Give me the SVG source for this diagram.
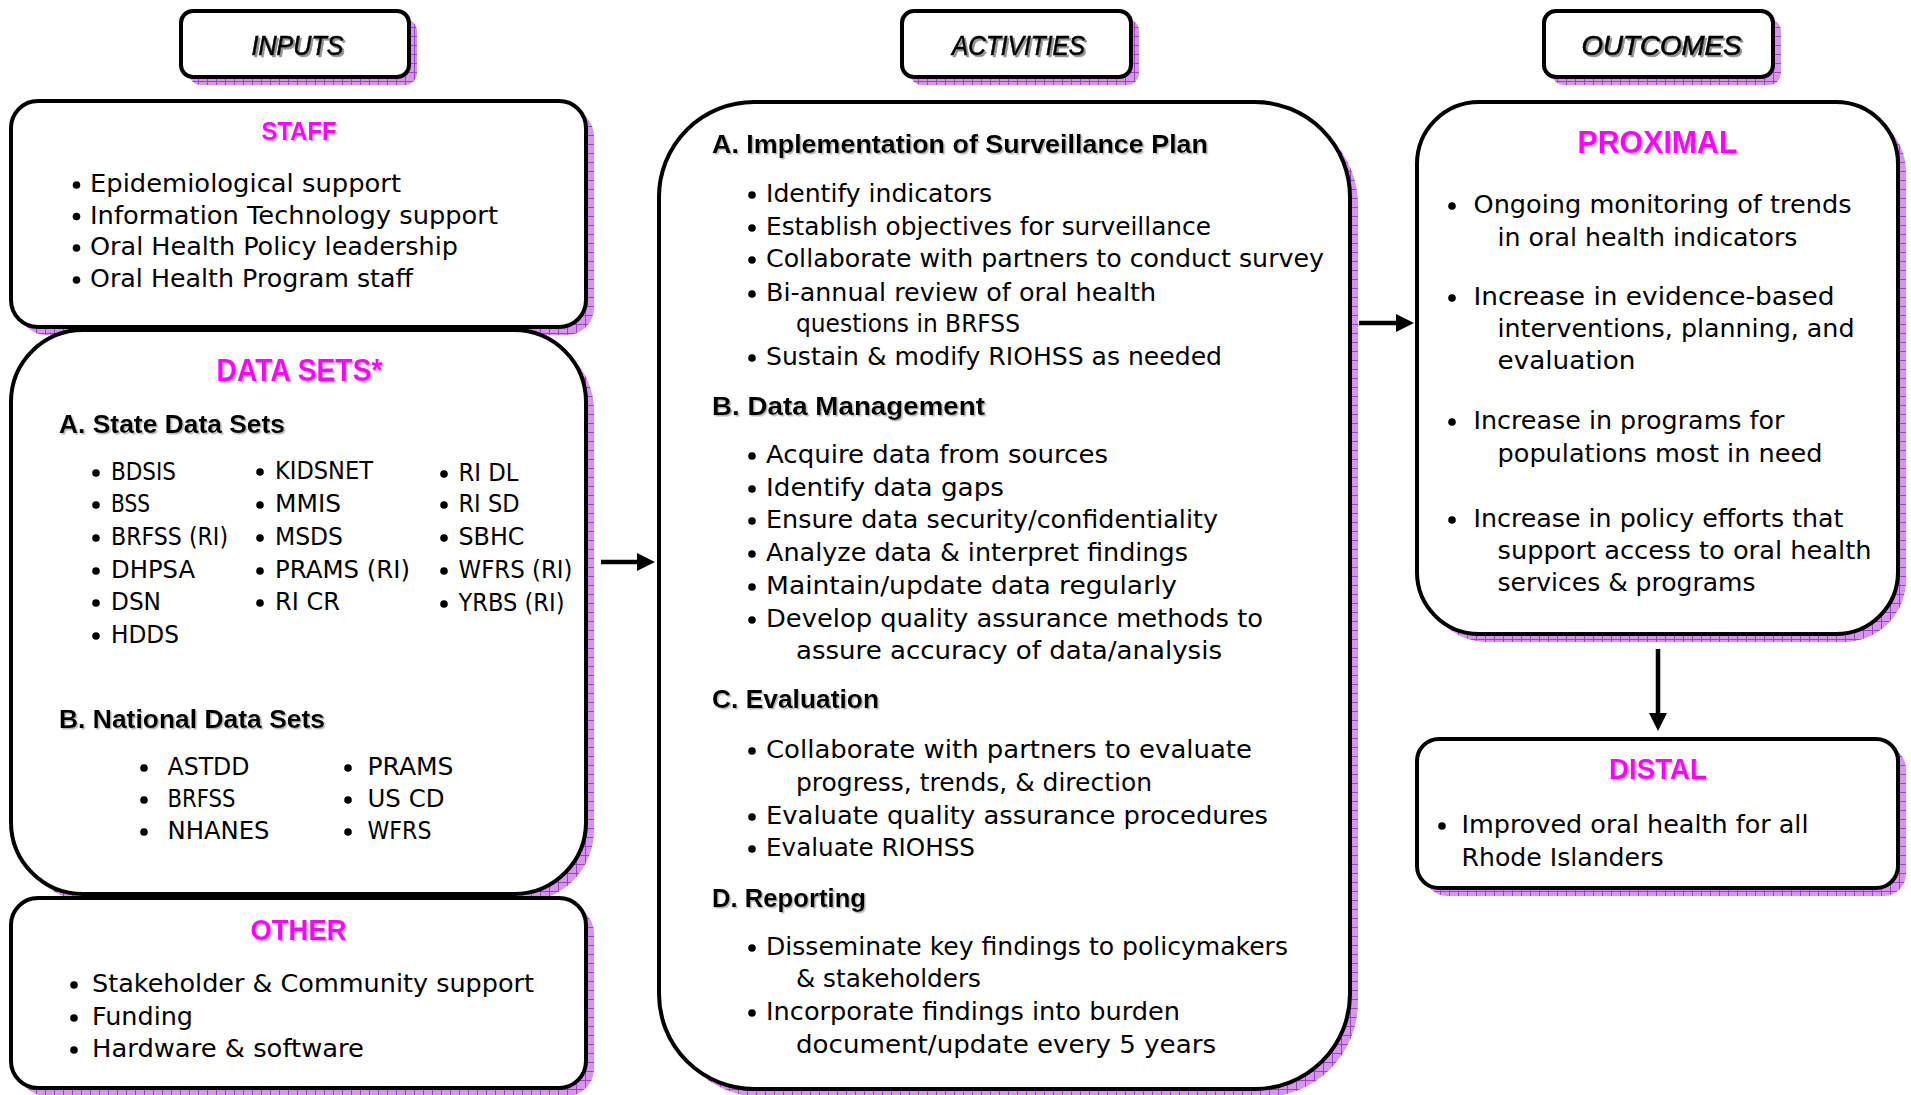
<svg xmlns="http://www.w3.org/2000/svg" width="1911" height="1095" viewBox="0 0 1911 1095">
<style>
.box{fill:#fff;stroke:#000;stroke-width:4}
.shd{fill:url(#grid)}
.hdr{font-family:"Liberation Sans",Arial,sans-serif;font-style:italic;font-size:28px;text-anchor:middle;fill:#000;stroke:#000;stroke-width:0.7;filter:url(#ts)}
.mag{font-family:"Liberation Sans",Arial,sans-serif;font-weight:bold;fill:#FF00FF;text-anchor:middle;filter:url(#ts2)}
.sub{font-family:"Liberation Sans",Arial,sans-serif;font-weight:bold;font-size:26px;fill:#000;filter:url(#ts2)}
.bd{font-family:"DejaVu Sans","Liberation Sans",sans-serif;font-size:25.5px;fill:#000}
.bl{fill:#000}
.conn{fill:none;stroke:#000;stroke-width:4.5}
</style>
<defs>
<pattern id="grid" width="9" height="9" patternUnits="userSpaceOnUse">
<rect width="9" height="9" fill="#D596EC"/>
<path d="M0 0.5H9M0.5 0V9" stroke="#A23CD2" stroke-width="1"/>
</pattern>
<filter id="ts" x="-10%" y="-30%" width="125%" height="170%">
<feDropShadow dx="2" dy="2" stdDeviation="0.7" flood-color="#666" flood-opacity="0.7"/>
</filter>
<filter id="ts2" x="-10%" y="-30%" width="125%" height="170%">
<feDropShadow dx="1.5" dy="1.5" stdDeviation="0.6" flood-color="#888" flood-opacity="0.6"/>
</filter>
<marker id="ah" markerUnits="userSpaceOnUse" viewBox="0 0 18 18" markerWidth="18" markerHeight="18" refX="8" refY="9" orient="auto">
<path d="M0,0 L18,9 L0,18 z" fill="#000"/>
</marker>
</defs>
<rect width="1911" height="1095" fill="#fff"/>

<!-- Column headers -->
<g id="inputs-header">
<rect class="shd" x="189" y="19" width="228" height="66" rx="12"/>
<rect class="box" x="181" y="11" width="228" height="66" rx="12"/>
<text class="hdr" x="297.5" y="55" textLength="92" lengthAdjust="spacingAndGlyphs">INPUTS</text>
</g>
<g id="activities-header">
<rect class="shd" x="910" y="19" width="229" height="66" rx="12"/>
<rect class="box" x="902" y="11" width="229" height="66" rx="12"/>
<text class="hdr" x="1018.5" y="55" textLength="133" lengthAdjust="spacingAndGlyphs">ACTIVITIES</text>
</g>
<g id="outcomes-header">
<rect class="shd" x="1552" y="19" width="229" height="66" rx="12"/>
<rect class="box" x="1544" y="11" width="229" height="66" rx="12"/>
<text class="hdr" x="1661.5" y="55" textLength="160" lengthAdjust="spacingAndGlyphs">OUTCOMES</text>
</g>

<!-- STAFF -->
<g id="staff">
<rect class="shd" x="19" y="109" width="575" height="226" rx="27"/>
<rect class="box" x="11" y="101" width="575" height="226" rx="27"/>
<text class="mag" x="299" y="140" font-size="26" textLength="75" lengthAdjust="spacingAndGlyphs">STAFF</text>
<circle class="bl" cx="76.5" cy="185" r="3.8"/>
<circle class="bl" cx="76.5" cy="216.5" r="3.8"/>
<circle class="bl" cx="76.5" cy="248" r="3.8"/>
<circle class="bl" cx="76.5" cy="280" r="3.8"/>
<text class="bd" x="90" y="192" textLength="311" lengthAdjust="spacingAndGlyphs">Epidemiological support</text>
<text class="bd" x="90" y="223.5" textLength="408" lengthAdjust="spacingAndGlyphs">Information Technology support</text>
<text class="bd" x="90" y="255" textLength="368" lengthAdjust="spacingAndGlyphs">Oral Health Policy leadership</text>
<text class="bd" x="90" y="287" textLength="323" lengthAdjust="spacingAndGlyphs">Oral Health Program staff</text>
</g>

<!-- DATA SETS -->
<g id="data-sets">
<rect class="shd" x="19" y="338" width="575" height="564" rx="72"/>
<rect class="box" x="11" y="330" width="575" height="564" rx="72"/>
<text class="mag" x="299.5" y="381" font-size="31" textLength="166" lengthAdjust="spacingAndGlyphs">DATA SETS*</text>
<text class="sub" x="59" y="433" textLength="226" lengthAdjust="spacingAndGlyphs">A. State Data Sets</text>
<g class="bl">
<circle cx="96" cy="473" r="3.8"/><circle cx="96" cy="505" r="3.8"/><circle cx="96" cy="538" r="3.8"/><circle cx="96" cy="571" r="3.8"/><circle cx="96" cy="603" r="3.8"/><circle cx="96" cy="636" r="3.8"/>
<circle cx="260" cy="472" r="3.8"/><circle cx="260" cy="505" r="3.8"/><circle cx="260" cy="538" r="3.8"/><circle cx="260" cy="571" r="3.8"/><circle cx="260" cy="603" r="3.8"/>
<circle cx="444" cy="474" r="3.8"/><circle cx="444" cy="505" r="3.8"/><circle cx="444" cy="538" r="3.8"/><circle cx="444" cy="571" r="3.8"/><circle cx="444" cy="604" r="3.8"/>
</g>
<text class="bd" x="111" y="480" textLength="65" lengthAdjust="spacingAndGlyphs">BDSIS</text>
<text class="bd" x="111" y="512" textLength="39" lengthAdjust="spacingAndGlyphs">BSS</text>
<text class="bd" x="111" y="545" textLength="117" lengthAdjust="spacingAndGlyphs">BRFSS (RI)</text>
<text class="bd" x="111" y="578" textLength="84" lengthAdjust="spacingAndGlyphs">DHPSA</text>
<text class="bd" x="111" y="610" textLength="50" lengthAdjust="spacingAndGlyphs">DSN</text>
<text class="bd" x="111" y="643" textLength="68" lengthAdjust="spacingAndGlyphs">HDDS</text>
<text class="bd" x="275" y="479" textLength="98" lengthAdjust="spacingAndGlyphs">KIDSNET</text>
<text class="bd" x="275" y="512" textLength="66" lengthAdjust="spacingAndGlyphs">MMIS</text>
<text class="bd" x="275" y="545" textLength="68" lengthAdjust="spacingAndGlyphs">MSDS</text>
<text class="bd" x="275" y="578" textLength="135" lengthAdjust="spacingAndGlyphs">PRAMS (RI)</text>
<text class="bd" x="275" y="610" textLength="65" lengthAdjust="spacingAndGlyphs">RI CR</text>
<text class="bd" x="458.5" y="481" textLength="60" lengthAdjust="spacingAndGlyphs">RI DL</text>
<text class="bd" x="458.5" y="512" textLength="61" lengthAdjust="spacingAndGlyphs">RI SD</text>
<text class="bd" x="458.5" y="545" textLength="66" lengthAdjust="spacingAndGlyphs">SBHC</text>
<text class="bd" x="458.5" y="578" textLength="114" lengthAdjust="spacingAndGlyphs">WFRS (RI)</text>
<text class="bd" x="458.5" y="611" textLength="106" lengthAdjust="spacingAndGlyphs">YRBS (RI)</text>
<text class="sub" x="59" y="728" textLength="266" lengthAdjust="spacingAndGlyphs">B. National Data Sets</text>
<g class="bl">
<circle cx="144" cy="768" r="3.8"/><circle cx="144" cy="800" r="3.8"/><circle cx="144" cy="832" r="3.8"/>
<circle cx="348" cy="768" r="3.8"/><circle cx="348" cy="800" r="3.8"/><circle cx="348" cy="832" r="3.8"/>
</g>
<text class="bd" x="167.5" y="775" textLength="82" lengthAdjust="spacingAndGlyphs">ASTDD</text>
<text class="bd" x="167.5" y="807" textLength="68" lengthAdjust="spacingAndGlyphs">BRFSS</text>
<text class="bd" x="167.5" y="839" textLength="102" lengthAdjust="spacingAndGlyphs">NHANES</text>
<text class="bd" x="367.5" y="775" textLength="86" lengthAdjust="spacingAndGlyphs">PRAMS</text>
<text class="bd" x="367.5" y="807" textLength="77" lengthAdjust="spacingAndGlyphs">US CD</text>
<text class="bd" x="367.5" y="839" textLength="64" lengthAdjust="spacingAndGlyphs">WFRS</text>
</g>

<!-- OTHER -->
<g id="other">
<rect class="shd" x="19" y="906" width="575" height="190" rx="27"/>
<rect class="box" x="11" y="898" width="575" height="190" rx="27"/>
<text class="mag" x="298.5" y="940" font-size="30" textLength="96" lengthAdjust="spacingAndGlyphs">OTHER</text>
<circle class="bl" cx="74" cy="985" r="3.8"/>
<circle class="bl" cx="74" cy="1018" r="3.8"/>
<circle class="bl" cx="74" cy="1050" r="3.8"/>
<text class="bd" x="92" y="992" textLength="442" lengthAdjust="spacingAndGlyphs">Stakeholder &amp; Community support</text>
<text class="bd" x="92" y="1025" textLength="101" lengthAdjust="spacingAndGlyphs">Funding</text>
<text class="bd" x="92" y="1057" textLength="272" lengthAdjust="spacingAndGlyphs">Hardware &amp; software</text>
</g>

<!-- ACTIVITIES -->
<g id="activities">
<rect class="shd" x="667" y="110" width="691" height="987" rx="95"/>
<rect class="box" x="659" y="102" width="691" height="987" rx="95"/>
<text class="sub" x="712" y="153" textLength="496" lengthAdjust="spacingAndGlyphs">A. Implementation of Surveillance Plan</text>
<g class="bl">
<circle cx="752" cy="195" r="3.8"/><circle cx="752" cy="228" r="3.8"/><circle cx="752" cy="260" r="3.8"/><circle cx="752" cy="294" r="3.8"/><circle cx="752" cy="358" r="3.8"/>
<circle cx="752" cy="456" r="3.8"/><circle cx="752" cy="489" r="3.8"/><circle cx="752" cy="521" r="3.8"/><circle cx="752" cy="554" r="3.8"/><circle cx="752" cy="587" r="3.8"/><circle cx="752" cy="620" r="3.8"/>
<circle cx="752" cy="751" r="3.8"/><circle cx="752" cy="817" r="3.8"/><circle cx="752" cy="849" r="3.8"/>
<circle cx="752" cy="948" r="3.8"/><circle cx="752" cy="1013" r="3.8"/>
</g>
<text class="bd" x="766" y="202" textLength="226" lengthAdjust="spacingAndGlyphs">Identify indicators</text>
<text class="bd" x="766" y="235" textLength="445" lengthAdjust="spacingAndGlyphs">Establish objectives for surveillance</text>
<text class="bd" x="766" y="267" textLength="558" lengthAdjust="spacingAndGlyphs">Collaborate with partners to conduct survey</text>
<text class="bd" x="766" y="301" textLength="390" lengthAdjust="spacingAndGlyphs">Bi-annual review of oral health</text>
<text class="bd" x="796" y="332" textLength="224" lengthAdjust="spacingAndGlyphs">questions in BRFSS</text>
<text class="bd" x="766" y="365" textLength="456" lengthAdjust="spacingAndGlyphs">Sustain &amp; modify RIOHSS as needed</text>
<text class="sub" x="712" y="415" textLength="273" lengthAdjust="spacingAndGlyphs">B. Data Management</text>
<text class="bd" x="766" y="463" textLength="342" lengthAdjust="spacingAndGlyphs">Acquire data from sources</text>
<text class="bd" x="766" y="496" textLength="238" lengthAdjust="spacingAndGlyphs">Identify data gaps</text>
<text class="bd" x="766" y="528" textLength="452" lengthAdjust="spacingAndGlyphs">Ensure data security/confidentiality</text>
<text class="bd" x="766" y="561" textLength="422" lengthAdjust="spacingAndGlyphs">Analyze data &amp; interpret findings</text>
<text class="bd" x="766" y="594" textLength="411" lengthAdjust="spacingAndGlyphs">Maintain/update data regularly</text>
<text class="bd" x="766" y="627" textLength="497" lengthAdjust="spacingAndGlyphs">Develop quality assurance methods to</text>
<text class="bd" x="796" y="659" textLength="426" lengthAdjust="spacingAndGlyphs">assure accuracy of data/analysis</text>
<text class="sub" x="712" y="708" textLength="167" lengthAdjust="spacingAndGlyphs">C. Evaluation</text>
<text class="bd" x="766" y="758" textLength="486" lengthAdjust="spacingAndGlyphs">Collaborate with partners to evaluate</text>
<text class="bd" x="796" y="791" textLength="356" lengthAdjust="spacingAndGlyphs">progress, trends, &amp; direction</text>
<text class="bd" x="766" y="824" textLength="502" lengthAdjust="spacingAndGlyphs">Evaluate quality assurance procedures</text>
<text class="bd" x="766" y="856" textLength="209" lengthAdjust="spacingAndGlyphs">Evaluate RIOHSS</text>
<text class="sub" x="712" y="907" textLength="154" lengthAdjust="spacingAndGlyphs">D. Reporting</text>
<text class="bd" x="766" y="955" textLength="522" lengthAdjust="spacingAndGlyphs">Disseminate key findings to policymakers</text>
<text class="bd" x="796" y="987" textLength="185" lengthAdjust="spacingAndGlyphs">&amp; stakeholders</text>
<text class="bd" x="766" y="1020" textLength="414" lengthAdjust="spacingAndGlyphs">Incorporate findings into burden</text>
<text class="bd" x="796" y="1053" textLength="420" lengthAdjust="spacingAndGlyphs">document/update every 5 years</text>
</g>

<!-- PROXIMAL -->
<g id="proximal">
<rect class="shd" x="1425" y="110" width="481" height="532" rx="62"/>
<rect class="box" x="1417" y="102" width="481" height="532" rx="62"/>
<text class="mag" x="1657.5" y="153" font-size="31" textLength="160" lengthAdjust="spacingAndGlyphs">PROXIMAL</text>
<g class="bl">
<circle cx="1452" cy="206" r="3.8"/><circle cx="1452" cy="298" r="3.8"/><circle cx="1452" cy="422" r="3.8"/><circle cx="1452" cy="520" r="3.8"/>
</g>
<text class="bd" x="1473.5" y="213" textLength="378" lengthAdjust="spacingAndGlyphs">Ongoing monitoring of trends</text>
<text class="bd" x="1497.5" y="246" textLength="300" lengthAdjust="spacingAndGlyphs">in oral health indicators</text>
<text class="bd" x="1473.5" y="305" textLength="361" lengthAdjust="spacingAndGlyphs">Increase in evidence-based</text>
<text class="bd" x="1497.5" y="337" textLength="357" lengthAdjust="spacingAndGlyphs">interventions, planning, and</text>
<text class="bd" x="1497.5" y="369" textLength="138" lengthAdjust="spacingAndGlyphs">evaluation</text>
<text class="bd" x="1473.5" y="429" textLength="311" lengthAdjust="spacingAndGlyphs">Increase in programs for</text>
<text class="bd" x="1497.5" y="462" textLength="325" lengthAdjust="spacingAndGlyphs">populations most in need</text>
<text class="bd" x="1473.5" y="527" textLength="370" lengthAdjust="spacingAndGlyphs">Increase in policy efforts that</text>
<text class="bd" x="1497.5" y="559" textLength="374" lengthAdjust="spacingAndGlyphs">support access to oral health</text>
<text class="bd" x="1497.5" y="591" textLength="258" lengthAdjust="spacingAndGlyphs">services &amp; programs</text>
</g>

<!-- DISTAL -->
<g id="distal">
<rect class="shd" x="1425" y="747" width="481" height="149" rx="22"/>
<rect class="box" x="1417" y="739" width="481" height="149" rx="22"/>
<text class="mag" x="1658" y="779" font-size="30" textLength="98" lengthAdjust="spacingAndGlyphs">DISTAL</text>
<circle class="bl" cx="1442" cy="826" r="3.8"/>
<text class="bd" x="1461.5" y="833" textLength="347" lengthAdjust="spacingAndGlyphs">Improved oral health for all</text>
<text class="bd" x="1461.5" y="866" textLength="202" lengthAdjust="spacingAndGlyphs">Rhode Islanders</text>
</g>

<!-- Connectors -->
<g id="connectors">
<path class="conn" d="M601,562 H645" marker-end="url(#ah)"/>
<path class="conn" d="M1359,323 H1404" marker-end="url(#ah)"/>
<path class="conn" d="M1658,649 V721" marker-end="url(#ah)"/>
</g>
</svg>
